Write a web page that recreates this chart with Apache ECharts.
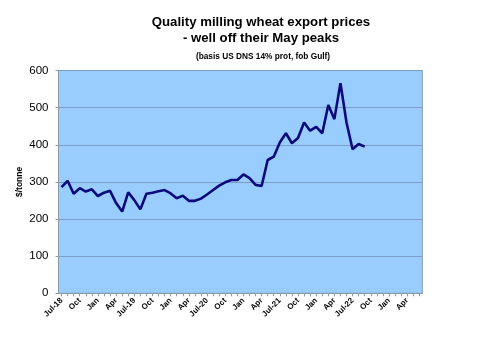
<!DOCTYPE html>
<html>
<head>
<meta charset="utf-8">
<script src="https://cdn.jsdelivr.net/npm/echarts@6/dist/echarts.min.js"></script>
<style>
  html, body { margin: 0; padding: 0; background: #fff; }
  #chart { width: 504px; height: 343px; }
</style>
</head>
<body>
<div id="chart"></div>
<script>
// Monthly axis, Jul-18 through Jun-23
const months = [
  'Jul-18','Aug-18','Sep-18','Oct-18','Nov-18','Dec-18',
  'Jan-19','Feb-19','Mar-19','Apr-19','May-19','Jun-19','Jul-19','Aug-19','Sep-19','Oct-19','Nov-19','Dec-19',
  'Jan-20','Feb-20','Mar-20','Apr-20','May-20','Jun-20','Jul-20','Aug-20','Sep-20','Oct-20','Nov-20','Dec-20',
  'Jan-21','Feb-21','Mar-21','Apr-21','May-21','Jun-21','Jul-21','Aug-21','Sep-21','Oct-21','Nov-21','Dec-21',
  'Jan-22','Feb-22','Mar-22','Apr-22','May-22','Jun-22','Jul-22','Aug-22','Sep-22','Oct-22','Nov-22','Dec-22',
  'Jan-23','Feb-23','Mar-23','Apr-23','May-23','Jun-23'
];

// US DNS 14% protein, fob Gulf, $/tonne
const prices = [
  286, 303, 268, 283, 274, 280,
  262, 271, 276, 243, 220, 272, 251, 226, 268, 271, 275, 278,
  269, 256, 263, 249, 249, 255, 266, 278, 290, 299, 305, 305,
  320, 310, 292, 289, 359, 368, 406, 431, 404, 418, 460, 438,
  448, 431, 507, 469, 566, 460, 388, 402, 395
];

const yTicks = [0, 100, 200, 300, 400, 500, 600];

const chart = echarts.init(document.getElementById('chart'));
chart.setOption({
  animation: false,
  title: [
    {
      text: 'Quality milling wheat export prices\n- well off their May peaks',
      left: 256, top: 9, textAlign: 'center',
      textStyle: { fontFamily: 'Liberation Sans, Arial', fontWeight: 'bold', fontSize: 13.2, lineHeight: 16, color: '#000' }
    },
    {
      text: '(basis US DNS 14% prot, fob Gulf)',
      left: 258, top: 48, textAlign: 'center',
      textStyle: { fontFamily: 'Liberation Sans, Arial', fontWeight: 'bold', fontSize: 8.3, color: '#000' }
    }
  ],
  grid: {
    left: 58.5, right: 81.7, top: 70.5, bottom: 49.7,
    show: true, backgroundColor: '#99ccff', borderColor: '#8a9aa8', borderWidth: 1
  },
  xAxis: {
    type: 'category',
    data: months,
    boundaryGap: true,
    axisLine: { lineStyle: { color: '#8a9aa8', width: 1 } },
    axisTick: { show: true, interval: 0, alignWithLabel: true, length: 3, lineStyle: { color: '#8a9aa8' } },
    axisLabel: {
      interval: 2, rotate: 45, margin: 6,
      fontFamily: 'Liberation Sans, Arial', fontWeight: 'bold', fontSize: 8, color: '#000',
      formatter: function (v) { return v.startsWith('Jul') ? v : v.slice(0, 3); }
    },
    splitLine: { show: false }
  },
  yAxis: {
    type: 'value',
    min: yTicks[0], max: yTicks[yTicks.length - 1], interval: 100,
    name: '$/tonne', nameLocation: 'middle', nameGap: 34, nameRotate: 90,
    nameMoveOverlap: false,
    nameTextStyle: { fontFamily: 'Liberation Sans, Arial', fontWeight: 'bold', fontSize: 8.5, color: '#000' },
    axisLine: { show: true, lineStyle: { color: '#8a9aa8' } },
    axisTick: { show: true, length: 3, lineStyle: { color: '#8a9aa8' } },
    axisLabel: { margin: 10, fontFamily: 'Liberation Sans, Arial', fontSize: 11.5, color: '#000' },
    splitLine: { show: true, lineStyle: { color: '#7c9dc6', width: 1 } }
  },
  series: [{
    type: 'line',
    data: prices,
    symbol: 'none',
    lineStyle: { color: '#0a0a7a', width: 2.6 },
    connectNulls: false
  }]
});
</script>
</body>
</html>
